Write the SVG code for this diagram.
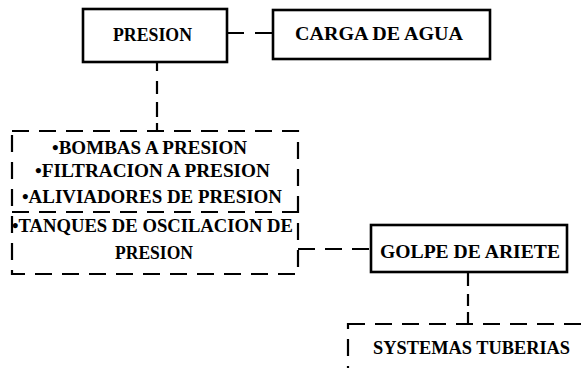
<svg xmlns="http://www.w3.org/2000/svg" width="586" height="368" viewBox="0 0 586 368">
<style>
.box{fill:#fff;stroke:#000;stroke-width:2.6}
.dbox{fill:none;stroke:#000;stroke-width:2.2;stroke-dasharray:17 10}
.conn{fill:none;stroke:#000;stroke-width:2.2;stroke-dasharray:17 11}
.t{font-family:"Liberation Serif","DejaVu Serif",serif;font-weight:bold;font-size:19px;fill:#000}
</style>
<rect width="586" height="368" fill="#fff"/>
<g id="connectors">
<line class="conn" x1="227" y1="33" x2="273" y2="33"/>
<line class="conn" x1="157" y1="62" x2="157" y2="131" style="stroke-dasharray:9 10 13 8 15 6"/>
<line class="conn" x1="298" y1="249" x2="371" y2="249" style="stroke-dasharray:17 10"/>
<line class="conn" x1="468" y1="272" x2="468" y2="324" style="stroke-dasharray:14 8 12 6 20"/>
</g>
<g id="presion">
<rect class="box" x="83" y="9" width="144" height="53"/>
<text class="t" x="113" y="41" textLength="79" lengthAdjust="spacingAndGlyphs">PRESION</text>
</g>
<g id="carga">
<rect class="box" x="273" y="10" width="217" height="49"/>
<text class="t" x="295" y="40" textLength="168" lengthAdjust="spacingAndGlyphs">CARGA DE AGUA</text>
</g>
<g id="aplicaciones">
<rect class="dbox" x="12" y="131" width="286" height="143"/>
<line class="dbox" x1="12" y1="212" x2="298" y2="212"/>
<text class="t" x="52" y="154" textLength="195" lengthAdjust="spacingAndGlyphs">•BOMBAS A PRESION</text>
<text class="t" x="35" y="177" textLength="235" lengthAdjust="spacingAndGlyphs">•FILTRACION A PRESION</text>
<text class="t" x="22" y="203" textLength="260" lengthAdjust="spacingAndGlyphs">•ALIVIADORES DE PRESION</text>
<text class="t" x="12" y="232" textLength="281" lengthAdjust="spacingAndGlyphs">•TANQUES DE OSCILACION DE</text>
<text class="t" x="115" y="259" textLength="78" lengthAdjust="spacingAndGlyphs">PRESION</text>
</g>
<g id="golpe">
<rect class="box" x="371" y="225" width="196" height="47"/>
<text class="t" x="380" y="258" textLength="180" lengthAdjust="spacingAndGlyphs">GOLPE DE ARIETE</text>
</g>
<g id="sistemas">
<rect class="dbox" x="348" y="324" width="260" height="80"/>
<text class="t" x="373" y="354" textLength="197" lengthAdjust="spacingAndGlyphs">SYSTEMAS TUBERIAS</text>
</g>
</svg>
